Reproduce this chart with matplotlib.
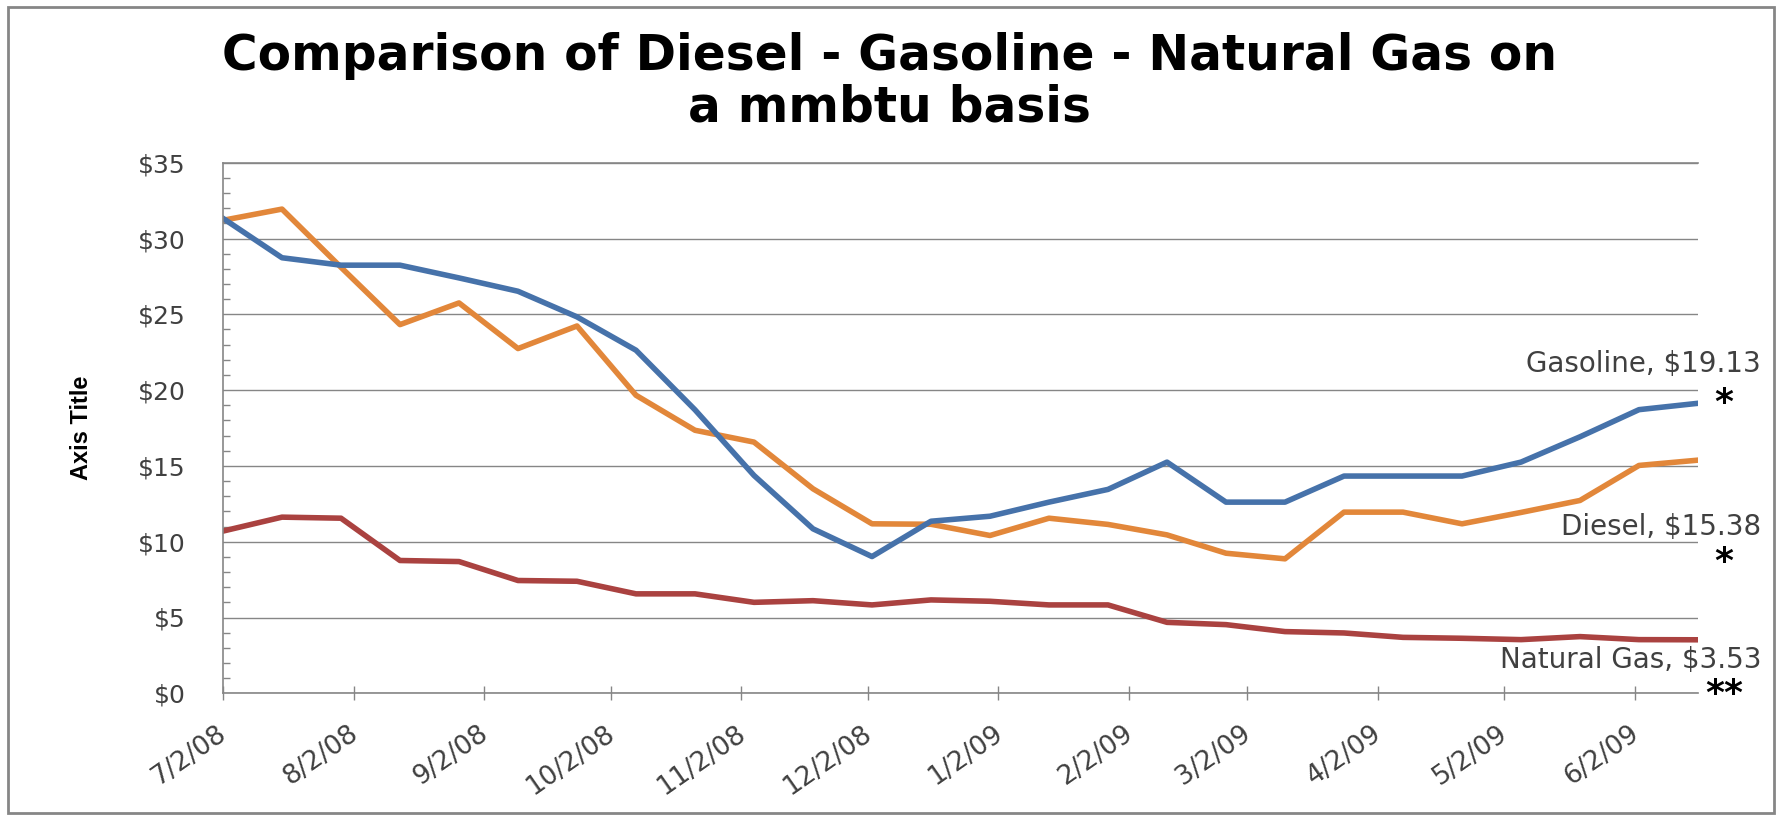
import matplotlib
matplotlib.use('Agg')
import matplotlib.pyplot as plt
import matplotlib.transforms as mtransforms
from matplotlib.ticker import MultipleLocator, FuncFormatter
from matplotlib.patches import Rectangle
import pandas as pd

# Biweekly price points, $/mmbtu
dates = pd.to_datetime([
    '2008-07-02', '2008-07-16', '2008-07-30', '2008-08-13', '2008-08-27',
    '2008-09-10', '2008-09-24', '2008-10-08', '2008-10-22', '2008-11-05',
    '2008-11-19', '2008-12-03', '2008-12-17', '2008-12-31', '2009-01-14',
    '2009-01-28', '2009-02-11', '2009-02-25', '2009-03-11', '2009-03-25',
    '2009-04-08', '2009-04-22', '2009-05-06', '2009-05-20', '2009-06-03',
    '2009-06-17'])
gasoline = [31.33, 28.73, 28.24, 28.24, 27.40, 26.52, 24.83, 22.63, 18.70, 14.37,
            10.85, 9.02, 11.35, 11.68, 12.61, 13.45, 15.25, 12.61, 12.61, 14.33,
            14.33, 14.33, 15.25, 16.92, 18.71, 19.13]
diesel = [31.20, 31.94, 28.10, 24.32, 25.75, 22.74, 24.23, 19.66, 17.35, 16.57,
          13.49, 11.18, 11.15, 10.41, 11.55, 11.14, 10.45, 9.24, 8.87, 11.95,
          11.95, 11.18, 11.93, 12.72, 15.03, 15.38]
natural_gas = [10.70, 11.62, 11.55, 8.76, 8.69, 7.44, 7.39, 6.56, 6.56, 6.00,
               6.11, 5.83, 6.16, 6.07, 5.83, 5.83, 4.68, 4.53, 4.07, 3.98,
               3.69, 3.63, 3.54, 3.74, 3.54, 3.53]

tick_dates = pd.to_datetime([
    '2008-07-02', '2008-08-02', '2008-09-02', '2008-10-02', '2008-11-02',
    '2008-12-02', '2009-01-02', '2009-02-02', '2009-03-02', '2009-04-02',
    '2009-05-02', '2009-06-02'])
tick_labels = ['7/2/08', '8/2/08', '9/2/08', '10/2/08', '11/2/08', '12/2/08',
               '1/2/09', '2/2/09', '3/2/09', '4/2/09', '5/2/09', '6/2/09']

blue = '#4672AA'
orange = '#E2873A'
red = '#AA4240'
grey = '#868686'
text_grey = '#404040'

W, H = 1779, 817
fig = plt.figure(figsize=(W / 100, H / 100), dpi=100)
ax = fig.add_axes([223 / W, 1 - 693.3 / H, (1698 - 223) / W, (693.3 - 162.7) / H])

# Lines
ax.plot(dates, diesel, color=orange, lw=4)
ax.plot(dates, gasoline, color=blue, lw=4)
ax.plot(dates, natural_gas, color=red, lw=4)

ax.set_xlim(dates[0], dates[-1])
ax.set_ylim(0, 35)

# Y axis
ax.yaxis.set_major_locator(MultipleLocator(5))
ax.yaxis.set_minor_locator(MultipleLocator(1))
ax.yaxis.set_major_formatter(FuncFormatter(lambda v, p: f'${v:.0f}'))
ax.tick_params(axis='y', which='major', length=0, pad=27, labelsize=18,
               labelcolor=text_grey)
ax.tick_params(axis='y', which='minor', direction='in', length=5, width=1,
               color=grey)
ax.yaxis.grid(True, color=grey, lw=1)

# X axis
ax.set_xticks(tick_dates)
ax.set_xticklabels(tick_labels, rotation=35, ha='right', va='top')
ax.tick_params(axis='x', direction='inout', length=9.5, width=1, color=grey,
               pad=15, labelsize=19, labelcolor=text_grey)
shift = mtransforms.ScaledTranslation(9 / 100, 0, fig.dpi_scale_trans)
for lab in ax.get_xticklabels():
    lab.set_transform(lab.get_transform() + shift)

for side in ['left', 'bottom', 'top']:
    ax.spines[side].set_color(grey)
    ax.spines[side].set_linewidth(1.2)
ax.spines['right'].set_visible(False)

# End labels: text, last value, text offset, star, star offset (pixels)
end_labels = [
    (f'Gasoline, ${gasoline[-1]:.2f}', gasoline[-1], 31, '*', 17),
    (f'Diesel, ${diesel[-1]:.2f}', diesel[-1], -75, '*', -85),
    (f'Natural Gas, ${natural_gas[-1]:.2f}', natural_gas[-1], -28, '**', -37),
]
for text, yv, dy, star, sdy in end_labels:
    ax.annotate(text, xy=(dates[-1], yv), xytext=(63, dy), textcoords='offset pixels',
                ha='right', va='baseline', fontsize=20, color=text_grey,
                annotation_clip=False)
    ax.annotate(star, xy=(dates[-1], yv), xytext=(26, sdy), textcoords='offset pixels',
                ha='center', va='top', fontsize=26, fontweight='bold', color='black',
                annotation_clip=False)

# Titles
fig.text(0.5, 1 - 70 / H, 'Comparison of Diesel - Gasoline - Natural Gas on',
         ha='center', va='baseline', fontsize=35, fontweight='bold', color='black')
fig.text(0.5, 1 - 122 / H, 'a mmbtu basis',
         ha='center', va='baseline', fontsize=35, fontweight='bold', color='black')
fig.text(82 / W, 1 - 428 / H, 'Axis Title', rotation=90, ha='center', va='center',
         fontsize=17, fontweight='bold', color='black',
         family=['Liberation Sans Narrow', 'Liberation Sans', 'DejaVu Sans'])

# Chart border
fig.patches.append(Rectangle((8 / W, 1 - 813 / H), (1774 - 8) / W, (813 - 7) / H,
                             transform=fig.transFigure, fill=False, ec=grey, lw=2))

fig.savefig('out.png', dpi=100, facecolor='white')
